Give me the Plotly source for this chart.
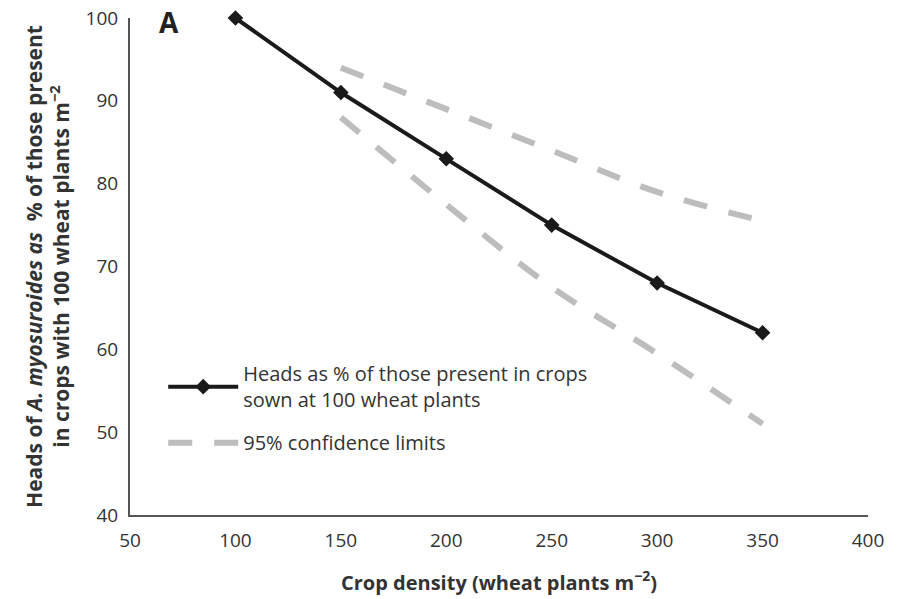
import plotly.graph_objects as go

# Crop density (wheat plants per m²)
density = [100, 150, 200, 250, 300, 350]
heads_pct = [100, 91, 83, 75, 68, 62]

ci_density = [150, 200, 250, 300, 350]
ci_upper = [94, 89, 84, 79, 75.5]
ci_lower = [88, 77.5, 67.5, 59.5, 51]

x_ticks = [50, 100, 150, 200, 250, 300, 350, 400]
y_ticks = [40, 50, 60, 70, 80, 90, 100]

FONT = "'Open Sans', sans-serif"
TXT = "#333333"
GREY = "#bdbdbd"

fig = go.Figure()

fig.add_trace(go.Scatter(
    x=density, y=heads_pct, mode="lines+markers",
    name="Heads as % of those present in crops<br>sown at 100 wheat plants",
    line=dict(color="#1a1a1a", width=4),
    marker=dict(symbol="diamond", size=12, color="#1a1a1a"),
    cliponaxis=False,
))
fig.add_trace(go.Scatter(
    x=ci_density, y=ci_upper, mode="lines",
    name="95% confidence limits", legendgroup="ci",
    line=dict(color=GREY, width=6, dash="24px,22px", shape="spline"),
))
fig.add_trace(go.Scatter(
    x=ci_density, y=ci_lower, mode="lines",
    name="95% confidence limits", legendgroup="ci", showlegend=False,
    line=dict(color=GREY, width=6, dash="24px,22px", shape="spline"),
))

fig.update_layout(
    width=904, height=599,
    margin=dict(l=130, r=36, t=18, b=84),
    plot_bgcolor="white", paper_bgcolor="white",
    font=dict(family=FONT, size=19, color=TXT),
    showlegend=True,
    legend=dict(
        x=0.045, y=0.215, xanchor="left", yanchor="middle",
        bgcolor="rgba(0,0,0,0)", font=dict(size=20, color=TXT),
        itemwidth=70, tracegroupgap=14,
    ),
    xaxis=dict(
        range=[50, 400], tickvals=x_ticks, showgrid=False, zeroline=False,
        showline=True, linecolor="#555555", linewidth=2, ticks="",
        automargin=False, ticklabelstandoff=7,
        tickfont=dict(size=19, color=TXT),
        title=dict(text="<b>Crop density (wheat plants m<sup>−2</sup>)</b>",
                   font=dict(size=20, color=TXT), standoff=24),
    ),
    yaxis=dict(
        range=[40, 100], tickvals=y_ticks, showgrid=False, zeroline=False,
        showline=True, linecolor="#555555", linewidth=2, ticks="",
        automargin=False, ticklabelstandoff=6,
        tickfont=dict(size=19, color=TXT),
        title=dict(
            text="<b>Heads of <i>A. myosuroides as</i>  % of those present<br>"
                 "in crops with 100 wheat plants m<sup>−2</sup></b>",
            font=dict(size=21, color=TXT), standoff=10),
    ),
    annotations=[dict(
        text="<b>A</b>", x=0.053, y=0.991, xref="paper", yref="paper",
        xanchor="center", yanchor="middle", showarrow=False,
        font=dict(size=28, color="#222222", family=FONT),
    )],
)

fig.write_html("out.html")
